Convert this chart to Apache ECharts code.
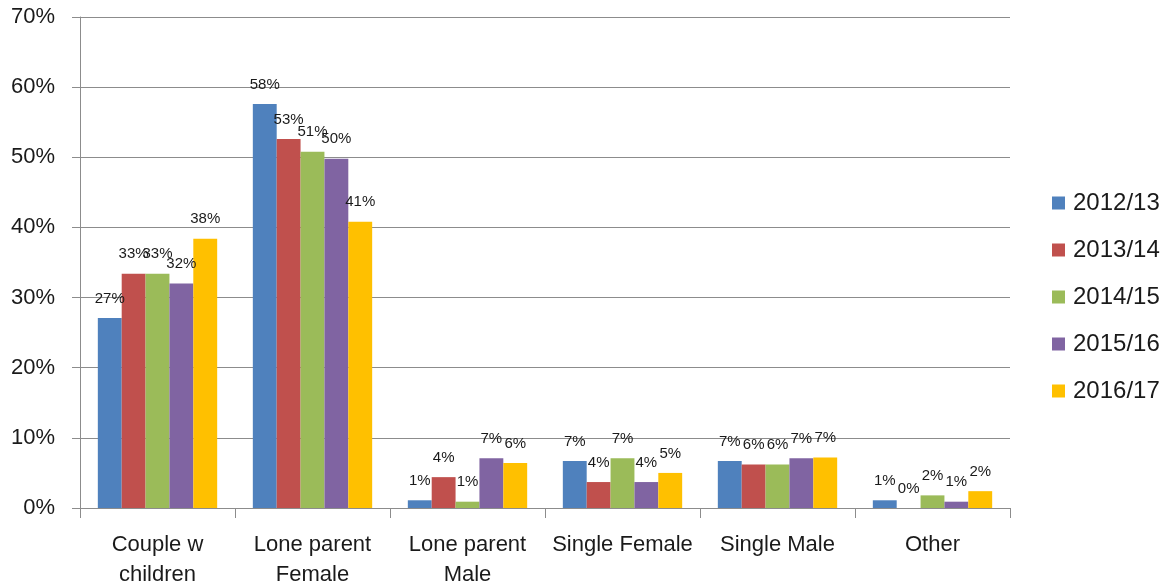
<!DOCTYPE html>
<html>
<head>
<meta charset="utf-8">
<script src="https://cdn.jsdelivr.net/npm/echarts@6/dist/echarts.min.js"></script>
<style>
  html, body { margin: 0; padding: 0; background: #fff; }
  #chart { width: 1172px; height: 585px; }
</style>
</head>
<body>
<div id="chart"></div>
<script>
// Household types
const categories = [
  'Couple w\nchildren',
  'Lone parent\nFemale',
  'Lone parent\nMale',
  'Single Female',
  'Single Male',
  'Other'
];

// Share of each household type per year
const seriesNames = ['2012/13', '2013/14', '2014/15', '2015/16', '2016/17'];
const v2012 = [0.271, 0.576, 0.011, 0.067, 0.067, 0.011];
const v2013 = [0.334, 0.526, 0.044, 0.037, 0.062, 0.000];
const v2014 = [0.334, 0.508, 0.009, 0.071, 0.062, 0.018];
const v2015 = [0.320, 0.498, 0.071, 0.037, 0.071, 0.009];
const v2016 = [0.384, 0.408, 0.064, 0.050, 0.072, 0.024];
const seriesValues = [v2012, v2013, v2014, v2015, v2016];

const colors = ['#4F81BD', '#C0504D', '#9BBB59', '#8064A2', '#FFC000'];

// Y axis ticks: 0% to 70% in steps of 10%
const yMin = 0, yMax = 0.7, yStep = 0.1;

const FONT = '"Liberation Sans", Arial, sans-serif';
const pct = v => Math.round(v * 100) + '%';

const chart = echarts.init(document.getElementById('chart'), null, { renderer: 'canvas' });

chart.setOption({
  animation: false,
  backgroundColor: '#ffffff',
  color: colors,
  grid: { left: 80, right: 162, top: 17, bottom: 77, containLabel: false, outerBoundsMode: 'none' },
  legend: {
    orient: 'vertical',
    left: 1047,
    top: 186,
    itemWidth: 13,
    itemHeight: 13,
    itemGap: 23,
    icon: 'rect',
    textStyle: { fontFamily: FONT, fontSize: 24, color: '#1a1a1a', padding: [0, 0, 0, 3] },
    data: seriesNames
  },
  xAxis: {
    type: 'category',
    data: categories,
    axisLine: { show: true, lineStyle: { color: '#8c8c8c', width: 1 } },
    axisTick: { show: true, length: 10, alignWithLabel: false, lineStyle: { color: '#8c8c8c' } },
    axisLabel: {
      interval: 0,
      margin: 22,
      fontFamily: FONT,
      fontSize: 22,
      lineHeight: 30,
      color: '#1a1a1a'
    },
    splitLine: { show: false }
  },
  yAxis: {
    type: 'value',
    min: yMin,
    max: yMax,
    interval: yStep,
    axisLine: { show: true, lineStyle: { color: '#8c8c8c', width: 1 } },
    axisTick: { show: true, length: 8, lineStyle: { color: '#8c8c8c' } },
    axisLabel: {
      margin: 25,
      fontFamily: FONT,
      fontSize: 22,
      color: '#1a1a1a',
      padding: [4, 0, 0, 0],
      formatter: v => Math.round(v * 100) + '%'
    },
    splitLine: { show: true, lineStyle: { color: '#8c8c8c', width: 1 } }
  },
  series: seriesNames.map((name, i) => ({
    name,
    type: 'bar',
    data: seriesValues[i],
    barGap: '0%',
    barCategoryGap: '23%',
    label: {
      show: true,
      position: 'top',
      distance: 12,
      fontFamily: FONT,
      fontSize: 15,
      color: '#1a1a1a',
      formatter: p => pct(p.value)
    }
  }))
});
</script>
</body>
</html>
